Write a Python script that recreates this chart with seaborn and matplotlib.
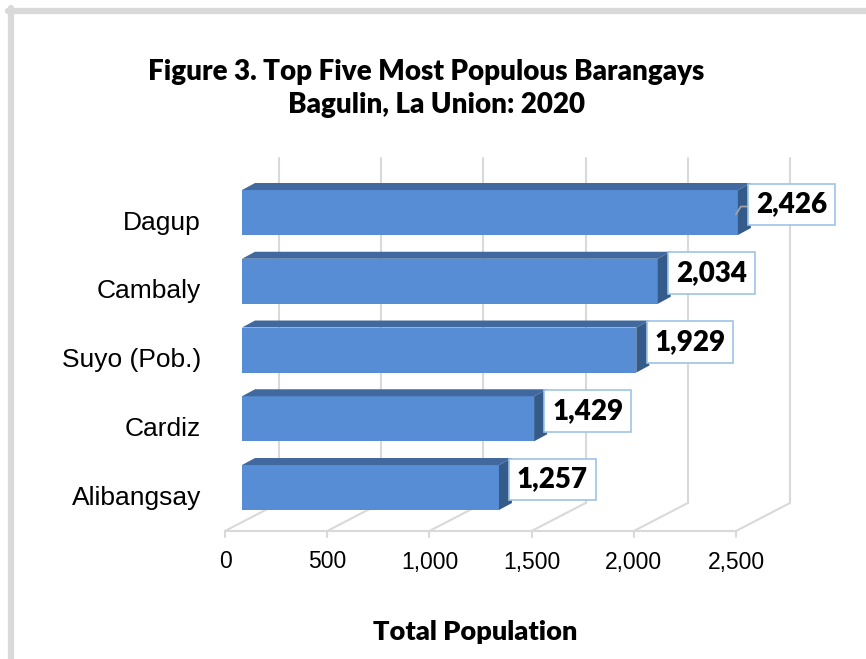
import matplotlib
matplotlib.use('Agg')
import matplotlib.pyplot as plt
from matplotlib.patches import Polygon
import seaborn as sns
import pandas as pd

barangays = ['Dagup', 'Cambaly', 'Suyo (Pob.)', 'Cardiz', 'Alibangsay']
population = [2426, 2034, 1929, 1429, 1257]
ticks = [0, 500, 1000, 1500, 2000, 2500]
tick_labels = ['0', '500', '1,000', '1,500', '2,000', '2,500']

front_col = '#568dd4'
top_col = '#41699f'
side_col = '#355b8a'
grid_col = '#d9d9d9'

sns.set_style('white')
plt.rcParams['font.family'] = ['Liberation Sans', 'DejaVu Sans']
bold_font = ['Lato', 'DejaVu Sans']

df = pd.DataFrame({'Barangay': barangays, 'Population': population})

W, H = 866, 659
fig = plt.figure(figsize=(W / 100, H / 100), dpi=100)
# axes placed so that the bar front plane matches the picture
ax = fig.add_axes([242 / W, 1 - 521.9 / H, 511 / W, 343.75 / H])
bar_w = 0.655
sns.barplot(data=df, x='Population', y='Barangay', orient='h', color=front_col,
            saturation=1, width=bar_w, ax=ax, zorder=3, linewidth=0)
ax.set_xlim(0, 2500)
ax.set_ylim(4.5, -0.5)
ax.axis('off')

px_x = 511 / 2500      # pixels per unit
px_y = 343.75 / 5      # pixels per category

def ux(p):
    return p / px_x

def uy(p):
    return p / px_y

# 3d faces of the bars
dx, dy = ux(13), -uy(7)
for i, v in enumerate(population):
    yt = i - bar_w / 2
    yb = i + bar_w / 2
    ax.add_patch(Polygon([(0, yt), (v, yt), (v + dx, yt + dy), (dx, yt + dy)],
                         closed=True, facecolor=top_col, edgecolor='none', zorder=3))
    ax.add_patch(Polygon([(v, yt), (v + dx, yt + dy), (v + dx, yb + dy), (v, yb)],
                         closed=True, facecolor=side_col, edgecolor='none', zorder=3))

# floor and back wall
front_shift = ux(-17)
back_shift = ux(37)
y_front = 4.5 + uy(531 - 521.9)
y_back = 4.5 - uy(521.9 - 503)
y_top = -0.5 - uy(178.1 - 158)
for t, lab in zip(ticks, tick_labels):
    ax.plot([t + back_shift, t + back_shift], [y_back, y_top], color=grid_col,
            lw=1.5, zorder=1, clip_on=False)
    ax.plot([t + front_shift, t + back_shift], [y_front, y_back], color=grid_col,
            lw=1.5, zorder=1, clip_on=False)
    ax.plot([t + front_shift, t + front_shift], [y_front, y_front + uy(6)], color=grid_col,
            lw=1.5, zorder=1, clip_on=False)
    ax.text(t + front_shift, y_front + uy(31), lab, ha='center', va='center',
            fontsize=16.5, color='black')
ax.plot([front_shift, 2500 + front_shift], [y_front, y_front], color=grid_col,
        lw=1.5, zorder=1, clip_on=False)

# category labels
for i, name in enumerate(barangays):
    ax.text(ux(-41), i + uy(10), name, ha='right', va='center', fontsize=19, color='black')

# value labels
for i, v in enumerate(population):
    ax.text(v + ux(18), i - uy(8), f'{v:,}', ha='left', va='center', fontsize=20,
            fontweight='heavy', family=bold_font, color='black', zorder=5,
            bbox=dict(boxstyle='square,pad=0.28', facecolor='white', edgecolor='#9dc3e6', lw=1.2))
# small leader line on the first label
ax.plot([population[0] + ux(-2), population[0] + ux(3), population[0] + ux(12)],
        [0 + uy(2), 0 - uy(6), 0 - uy(6)], color='#a6a6a6', lw=1.2, zorder=4)

fig.text(426 / W, 1 - 72 / H, 'Figure 3. Top Five Most Populous Barangays', ha='center',
         va='center', fontsize=20, fontweight='heavy', family=bold_font, color='black')
fig.text(436 / W, 1 - 105 / H, 'Bagulin, La Union: 2020', ha='center', va='center',
         fontsize=20, fontweight='heavy', family=bold_font, color='black')
fig.text(475 / W, 1 - 632 / H, 'Total Population', ha='center', va='center',
         fontsize=19.5, fontweight='heavy', family=bold_font, color='black')

# outer frame (top and left edges only visible)
fig.add_artist(plt.Line2D([8 / W, 1], [1 - 11 / H, 1 - 11 / H], color=grid_col, lw=4.5,
                          transform=fig.transFigure))
fig.add_artist(plt.Line2D([11 / W, 11 / W], [0, 1 - 8 / H], color=grid_col, lw=4.5,
                          transform=fig.transFigure))

fig.savefig('out.png', dpi=100)
